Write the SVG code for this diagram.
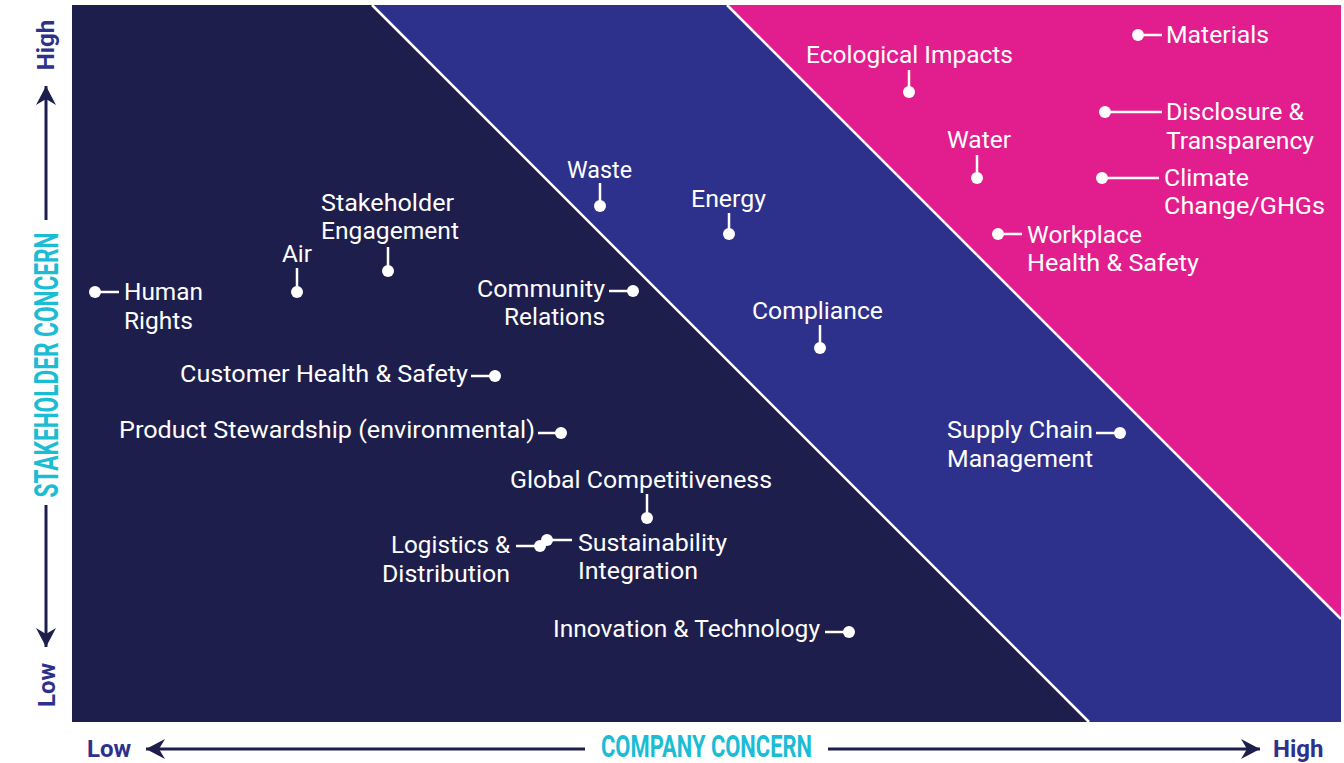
<svg xmlns="http://www.w3.org/2000/svg" width="1344" height="763" viewBox="0 0 1344 763">
<style>
.lbl{font-family:Roboto,"Liberation Sans",sans-serif;font-size:23.5px;fill:#ffffff}
.lead{stroke:#ffffff;stroke-width:2.5;fill:none}
.dot{fill:#ffffff}
.axl{font-family:Roboto,"Liberation Sans",sans-serif;font-weight:700;font-size:24px;fill:#2E318B}
.axt{font-family:Roboto,"Liberation Sans",sans-serif;font-weight:700;fill:#1CBCD4}
.arr{stroke:#1E1E4C;stroke-width:3;fill:none}
.sep{stroke:#ffffff;stroke-width:2.5}
</style>
<defs>
<marker id="ah" viewBox="-20 -11 22 22" refX="0" refY="0" markerWidth="22" markerHeight="22" markerUnits="userSpaceOnUse" orient="auto">
<path d="M0,0 L-19,-10 L-13,0 L-19,10 Z" fill="#1E1E4C"/>
</marker>
</defs>
<rect width="1344" height="763" fill="#ffffff"/>
<g id="bands">
<rect x="72" y="5" width="1269" height="717" fill="#1E1E4C"/>
<polygon points="372,5 1341,5 1341,722 1089,722" fill="#2E318B"/>
<polygon points="727,5 1341,5 1341,619" fill="#E21D8E"/>
<line class="sep" x1="372" y1="5" x2="1089" y2="722"/>
<line class="sep" x1="727" y1="5" x2="1341" y2="619"/>
</g>
<g id="axes">
<line class="arr" x1="46" y1="220" x2="46" y2="86" marker-end="url(#ah)"/>
<line class="arr" x1="46" y1="505" x2="46" y2="647" marker-end="url(#ah)"/>
<line class="arr" x1="585" y1="749" x2="146" y2="749" marker-end="url(#ah)"/>
<line class="arr" x1="828" y1="749" x2="1260" y2="749" marker-end="url(#ah)"/>
<text class="axl" transform="translate(54,45) rotate(-90)" text-anchor="middle">High</text>
<text class="axl" transform="translate(55,685) rotate(-90)" text-anchor="middle">Low</text>
<text class="axt" font-size="33" transform="translate(58,365) rotate(-90)" text-anchor="middle" textLength="265" lengthAdjust="spacingAndGlyphs">STAKEHOLDER CONCERN</text>
<text class="axt" font-size="31" x="601" y="757" textLength="211" lengthAdjust="spacingAndGlyphs">COMPANY CONCERN</text>
<text class="axl" x="87" y="757">Low</text>
<text class="axl" x="1273" y="757">High</text>
</g>
<g id="connectors">
<line class="lead" x1="1138" y1="35" x2="1162" y2="35"/>
<line class="lead" x1="909" y1="70" x2="909" y2="92"/>
<line class="lead" x1="1105" y1="112" x2="1162" y2="112"/>
<line class="lead" x1="977" y1="155" x2="977" y2="178"/>
<line class="lead" x1="1102" y1="178" x2="1159" y2="178"/>
<line class="lead" x1="998" y1="234" x2="1022" y2="234"/>
<line class="lead" x1="600" y1="183" x2="600" y2="206"/>
<line class="lead" x1="729" y1="213" x2="729" y2="234"/>
<line class="lead" x1="820" y1="325" x2="820" y2="348"/>
<line class="lead" x1="1096" y1="433" x2="1120" y2="433"/>
<line class="lead" x1="388" y1="247" x2="388" y2="271"/>
<line class="lead" x1="297" y1="268" x2="297" y2="292"/>
<line class="lead" x1="95" y1="292" x2="119" y2="292"/>
<line class="lead" x1="609" y1="291" x2="633" y2="291"/>
<line class="lead" x1="471" y1="376" x2="495" y2="376"/>
<line class="lead" x1="538" y1="433" x2="561" y2="433"/>
<line class="lead" x1="647" y1="494" x2="647" y2="518"/>
<line class="lead" x1="516" y1="546" x2="540" y2="546"/>
<line class="lead" x1="547" y1="540" x2="572" y2="540"/>
<line class="lead" x1="825" y1="632" x2="849" y2="632"/>
</g>
<g id="n-materials"><circle class="dot" cx="1138" cy="35" r="6"/><text class="lbl" x="1166" y="43" textLength="103" lengthAdjust="spacingAndGlyphs">Materials</text></g>
<g id="n-ecological"><circle class="dot" cx="909" cy="92" r="6"/><text class="lbl" x="806" y="63" textLength="207" lengthAdjust="spacingAndGlyphs">Ecological Impacts</text></g>
<g id="n-disclosure"><circle class="dot" cx="1105" cy="112" r="6"/><text class="lbl"><tspan x="1166" y="120" textLength="138" lengthAdjust="spacingAndGlyphs">Disclosure &amp;</tspan><tspan x="1166" y="149" textLength="148" lengthAdjust="spacingAndGlyphs">Transparency</tspan></text></g>
<g id="n-water"><circle class="dot" cx="977" cy="178" r="6"/><text class="lbl" x="947" y="148" textLength="64" lengthAdjust="spacingAndGlyphs">Water</text></g>
<g id="n-climate"><circle class="dot" cx="1102" cy="178" r="6"/><text class="lbl"><tspan x="1164" y="186" textLength="85" lengthAdjust="spacingAndGlyphs">Climate</tspan><tspan x="1164" y="214" textLength="161" lengthAdjust="spacingAndGlyphs">Change/GHGs</tspan></text></g>
<g id="n-workplace"><circle class="dot" cx="998" cy="234" r="6"/><text class="lbl"><tspan x="1027" y="243" textLength="115" lengthAdjust="spacingAndGlyphs">Workplace</tspan><tspan x="1027" y="271" textLength="172" lengthAdjust="spacingAndGlyphs">Health &amp; Safety</tspan></text></g>
<g id="n-waste"><circle class="dot" cx="600" cy="206" r="6"/><text class="lbl" x="567" y="178" textLength="65" lengthAdjust="spacingAndGlyphs">Waste</text></g>
<g id="n-energy"><circle class="dot" cx="729" cy="234" r="6"/><text class="lbl" x="691" y="207" textLength="75" lengthAdjust="spacingAndGlyphs">Energy</text></g>
<g id="n-compliance"><circle class="dot" cx="820" cy="348" r="6"/><text class="lbl" x="752" y="319" textLength="131" lengthAdjust="spacingAndGlyphs">Compliance</text></g>
<g id="n-supply"><circle class="dot" cx="1120" cy="433" r="6"/><text class="lbl"><tspan x="947" y="438" textLength="146" lengthAdjust="spacingAndGlyphs">Supply Chain</tspan><tspan x="947" y="467" textLength="146" lengthAdjust="spacingAndGlyphs">Management</tspan></text></g>
<g id="n-stakeholder"><circle class="dot" cx="388" cy="271" r="6"/><text class="lbl"><tspan x="321" y="211" textLength="133" lengthAdjust="spacingAndGlyphs">Stakeholder</tspan><tspan x="321" y="239" textLength="138" lengthAdjust="spacingAndGlyphs">Engagement</tspan></text></g>
<g id="n-air"><circle class="dot" cx="297" cy="292" r="6"/><text class="lbl" x="282" y="262" textLength="30" lengthAdjust="spacingAndGlyphs">Air</text></g>
<g id="n-human"><circle class="dot" cx="95" cy="292" r="6"/><text class="lbl"><tspan x="124" y="300" textLength="79" lengthAdjust="spacingAndGlyphs">Human</tspan><tspan x="124" y="329" textLength="69" lengthAdjust="spacingAndGlyphs">Rights</tspan></text></g>
<g id="n-community"><circle class="dot" cx="633" cy="291" r="6"/><text class="lbl"><tspan x="477" y="297" textLength="128" lengthAdjust="spacingAndGlyphs">Community</tspan><tspan x="504" y="325" textLength="101" lengthAdjust="spacingAndGlyphs">Relations</tspan></text></g>
<g id="n-customer"><circle class="dot" cx="495" cy="376" r="6"/><text class="lbl" x="180" y="382" textLength="288" lengthAdjust="spacingAndGlyphs">Customer Health &amp; Safety</text></g>
<g id="n-product"><circle class="dot" cx="561" cy="433" r="6"/><text class="lbl" x="119" y="438" textLength="416" lengthAdjust="spacingAndGlyphs">Product Stewardship (environmental)</text></g>
<g id="n-global"><circle class="dot" cx="647" cy="518" r="6"/><text class="lbl" x="510" y="488" textLength="262" lengthAdjust="spacingAndGlyphs">Global Competitiveness</text></g>
<g id="n-logistics"><circle class="dot" cx="540" cy="546" r="6"/><text class="lbl"><tspan x="391" y="553" textLength="119" lengthAdjust="spacingAndGlyphs">Logistics &amp;</tspan><tspan x="382" y="582" textLength="128" lengthAdjust="spacingAndGlyphs">Distribution</tspan></text></g>
<g id="n-sustainability"><circle class="dot" cx="547" cy="540" r="6"/><text class="lbl"><tspan x="578" y="551" textLength="149" lengthAdjust="spacingAndGlyphs">Sustainability</tspan><tspan x="578" y="579" textLength="120" lengthAdjust="spacingAndGlyphs">Integration</tspan></text></g>
<g id="n-innovation"><circle class="dot" cx="849" cy="632" r="6"/><text class="lbl" x="553" y="637" textLength="267" lengthAdjust="spacingAndGlyphs">Innovation &amp; Technology</text></g>
</svg>
